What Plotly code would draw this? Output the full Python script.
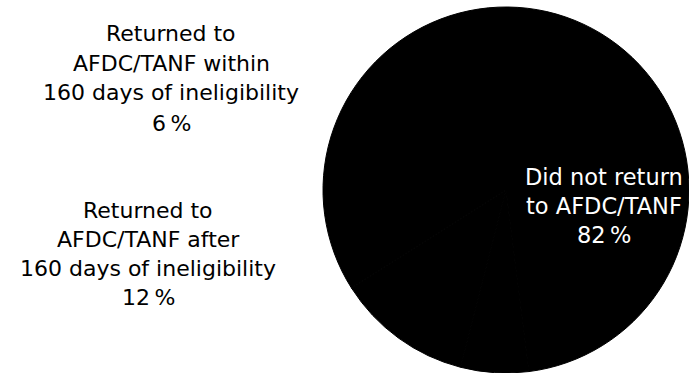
import plotly.graph_objects as go

# Outcomes after leaving AFDC/TANF
categories = [
    "Did not return to AFDC/TANF",
    "Returned to AFDC/TANF within 160 days of ineligibility",
    "Returned to AFDC/TANF after 160 days of ineligibility",
]
values = [82, 6, 12]
label_lines = [
    ["Did not return", "to AFDC/TANF"],
    ["Returned to", "AFDC/TANF within", "160 days of ineligibility"],
    ["Returned to", "AFDC/TANF after", "160 days of ineligibility"],
]

W, H = 689, 373
FONT = "DejaVu Sans"

fig = go.Figure(
    go.Pie(
        labels=categories,
        values=values,
        sort=False,
        direction="clockwise",
        rotation=90 + 82 * 3.6 / 2,
        marker=dict(colors=["black"] * len(values), line=dict(color="black", width=1)),
        textinfo="none",
        hoverinfo="label+percent",
        showlegend=False,
        domain=dict(x=[323 / W, 1.0], y=[0.0, 366 / H]),
    )
)

# label block placement: (center x px, first line y px, line gap px, size, color)
blocks = [
    (604, 177, 29, 22.5, "white"),
    (171, 33, 30, 22, "black"),
    (148, 210, 29, 22, "black"),
]

annotations = []
for lines, v, (cx, y0, gap, size, color) in zip(label_lines, values, blocks):
    for i, line in enumerate(lines + [f"{v}\u2009%"]):
        annotations.append(
            dict(
                x=cx / W,
                y=1 - (y0 + i * gap) / H,
                xref="paper",
                yref="paper",
                text=line,
                showarrow=False,
                xanchor="center",
                yanchor="middle",
                font=dict(family=FONT, size=size, color=color),
            )
        )

fig.update_layout(
    width=W,
    height=H,
    margin=dict(l=0, r=0, t=0, b=0),
    paper_bgcolor="white",
    plot_bgcolor="white",
    annotations=annotations,
)

fig.write_html("out.html")
